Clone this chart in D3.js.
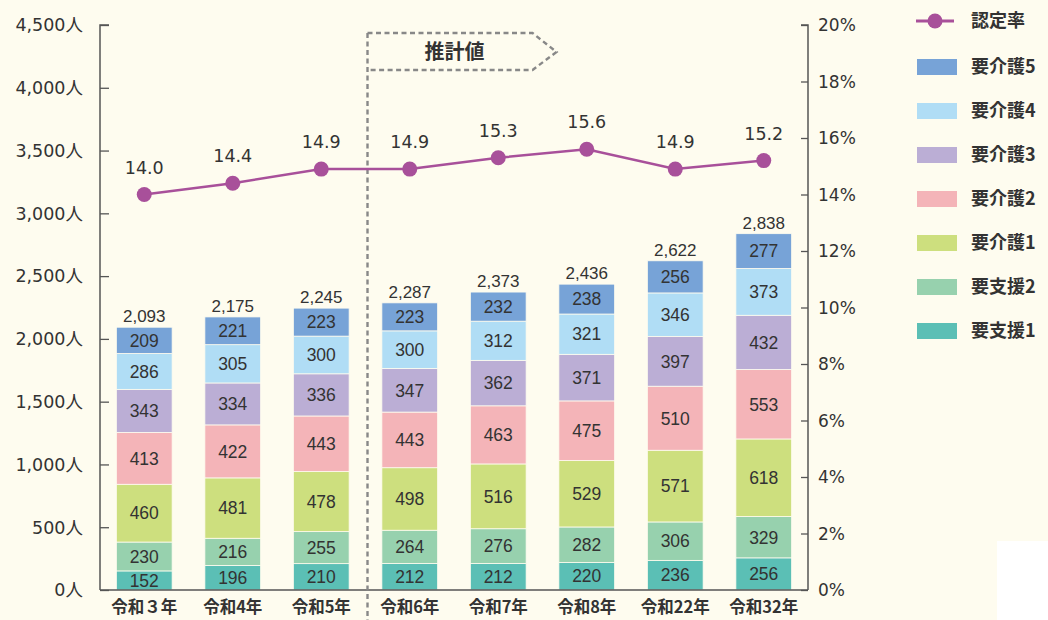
<!DOCTYPE html>
<html>
<head>
<meta charset="utf-8">
<script src="https://cdn.jsdelivr.net/npm/d3@7"></script>
<style>
  html, body { margin: 0; padding: 0; background: #fefcef; }
  svg { display: block; font-family: "Noto Sans CJK JP", "Noto Sans", sans-serif; }
</style>
</head>
<body>
<svg id="chart" width="1048" height="620"></svg>
<script>
// categories
const years = ['令和３年', '令和4年', '令和5年', '令和6年', '令和7年', '令和8年', '令和22年', '令和32年'];

// stacked series, bottom to top
const shien1 = [152, 196, 210, 212, 212, 220, 236, 256];
const shien2 = [230, 216, 255, 264, 276, 282, 306, 329];
const kaigo1 = [460, 481, 478, 498, 516, 529, 571, 618];
const kaigo2 = [413, 422, 443, 443, 463, 475, 510, 553];
const kaigo3 = [343, 334, 336, 347, 362, 371, 397, 432];
const kaigo4 = [286, 305, 300, 300, 312, 321, 346, 373];
const kaigo5 = [209, 221, 223, 223, 232, 238, 256, 277];

// 認定率 (%)
const rate = [14.0, 14.4, 14.9, 14.9, 15.3, 15.6, 14.9, 15.2];

const leftTicks = [0, 500, 1000, 1500, 2000, 2500, 3000, 3500, 4000, 4500];
const rightTicks = [0, 2, 4, 6, 8, 10, 12, 14, 16, 18, 20];

const seriesNames = ['要支援1', '要支援2', '要介護1', '要介護2', '要介護3', '要介護4', '要介護5'];
const seriesColors = ['#5bbfb5', '#97d1ae', '#cddf7e', '#f4b4b8', '#bbaed5', '#b0ddf5', '#77a3d7'];
const seriesValues = [shien1, shien2, kaigo1, kaigo2, kaigo3, kaigo4, kaigo5];

const lineColor = '#a8509a';
const textColor = '#333';
const wideFont = '"DejaVu Sans", "Noto Sans CJK JP", sans-serif';
const numFont = '"Liberation Sans", "Noto Sans CJK JP", sans-serif';

const svg = d3.select('#chart');

const margin = {left: 100, right: 808, top: 25, bottom: 590};

const x = d3.scaleBand()
    .domain(years)
    .range([margin.left, margin.right])
    .paddingInner(0.37)
    .paddingOuter(0.185);

const y = d3.scaleLinear().domain([0, 4500]).range([margin.bottom, margin.top]);
const y2 = d3.scaleLinear().domain([0, 20]).range([margin.bottom, margin.top]);

// build table for the stack
const table = years.map((yr, i) => {
    const row = {year: yr};
    seriesNames.forEach((n, k) => row[n] = seriesValues[k][i]);
    return row;
});
const stacked = d3.stack().keys(seriesNames)(table);

// bars
stacked.forEach((layer, k) => {
    const g = svg.append('g');
    g.selectAll('rect')
        .data(layer)
        .join('rect')
        .attr('x', d => x(d.data.year))
        .attr('y', d => y(d[1]))
        .attr('width', x.bandwidth())
        .attr('height', d => y(d[0]) - y(d[1]))
        .attr('fill', seriesColors[k])
        .attr('stroke', '#fefcef')
        .attr('stroke-width', 0.8);

    g.selectAll('text')
        .data(layer)
        .join('text')
        .attr('x', d => x(d.data.year) + x.bandwidth() / 2)
        .attr('y', d => (y(d[0]) + y(d[1])) / 2)
        .attr('dy', '0.36em')
        .attr('text-anchor', 'middle')
        .attr('font-family', numFont)
        .attr('font-size', 17.5)
        .attr('fill', textColor)
        .text(d => d[1] - d[0]);
});

// totals
const totals = table.map(r => ({year: r.year, total: d3.sum(seriesNames, n => r[n])}));
svg.append('g').selectAll('text')
    .data(totals)
    .join('text')
    .attr('x', d => x(d.year) + x.bandwidth() / 2)
    .attr('y', d => y(d.total) - 5)
    .attr('text-anchor', 'middle')
    .attr('font-family', numFont)
    .attr('font-size', 17)
    .attr('fill', textColor)
    .text(d => d3.format(',')(d.total));

// axes
const axisColor = '#555';
const gl = svg.append('g')
    .attr('transform', `translate(${margin.left},0)`)
    .call(d3.axisRight(y).tickValues(leftTicks).tickSize(9).tickFormat(() => ''));
gl.selectAll('line').attr('stroke', axisColor).attr('stroke-width', 1.3);
gl.select('.domain').attr('stroke', axisColor).attr('stroke-width', 1.5)
    .attr('d', `M9,${margin.top}H0V${margin.bottom}`);

svg.append('g').selectAll('text')
    .data(leftTicks)
    .join('text')
    .attr('x', 83)
    .attr('y', d => y(d))
    .attr('dy', '0.36em')
    .attr('text-anchor', 'end')
    .attr('font-family', wideFont)
    .attr('font-size', 17.5)
    .attr('fill', textColor)
    .text(d => d3.format(',')(d) + '人');

const gr = svg.append('g')
    .attr('transform', `translate(${margin.right},0)`)
    .call(d3.axisLeft(y2).tickValues(rightTicks).tickSize(7).tickFormat(() => ''));
gr.selectAll('line').attr('stroke', axisColor).attr('stroke-width', 1.3);
gr.select('.domain').attr('stroke', axisColor).attr('stroke-width', 1.5)
    .attr('d', `M-7,${margin.top}H0V${margin.bottom}`);

svg.append('g').selectAll('text')
    .data(rightTicks)
    .join('text')
    .attr('x', 818)
    .attr('y', d => y2(d))
    .attr('dy', '0.36em')
    .attr('text-anchor', 'start')
    .attr('font-family', wideFont)
    .attr('font-size', 17)
    .attr('fill', textColor)
    .text(d => d + '%');

// bottom line
svg.append('line')
    .attr('x1', margin.left).attr('x2', margin.right)
    .attr('y1', margin.bottom).attr('y2', margin.bottom)
    .attr('stroke', axisColor).attr('stroke-width', 1.5);

// x labels
svg.append('g').selectAll('text')
    .data(years)
    .join('text')
    .attr('x', d => x(d) + x.bandwidth() / 2)
    .attr('y', 613)
    .attr('text-anchor', 'middle')
    .attr('font-size', 16.5)
    .attr('font-weight', 'bold')
    .attr('fill', textColor)
    .text(d => d);

// estimate divider + 推計値 box
const splitX = x(years[3]) - (x.step() - x.bandwidth()) / 2 + 2;
svg.append('line')
    .attr('x1', splitX).attr('x2', splitX)
    .attr('y1', 33).attr('y2', 620)
    .attr('stroke', '#888').attr('stroke-width', 2.4)
    .attr('stroke-dasharray', '5,3.5');
svg.append('path')
    .attr('d', `M${splitX},33 H${splitX + 165} L${splitX + 189},52 L${splitX + 165},70 H${splitX}`)
    .attr('fill', 'none')
    .attr('stroke', '#888').attr('stroke-width', 2.4)
    .attr('stroke-dasharray', '5,3.5');
svg.append('text')
    .attr('x', splitX + 87)
    .attr('y', 52)
    .attr('dy', '0.36em')
    .attr('text-anchor', 'middle')
    .attr('font-size', 20)
    .attr('font-weight', 'bold')
    .attr('fill', textColor)
    .text('推計値');

// rate line
const cx = (d, i) => x(years[i]) + x.bandwidth() / 2;
svg.append('path')
    .datum(rate)
    .attr('d', d3.line().x(cx).y(d => y2(d)))
    .attr('fill', 'none')
    .attr('stroke', lineColor)
    .attr('stroke-width', 2.5);
svg.append('g').selectAll('circle')
    .data(rate)
    .join('circle')
    .attr('cx', cx)
    .attr('cy', d => y2(d))
    .attr('r', 7.5)
    .attr('fill', lineColor);
svg.append('g').selectAll('text')
    .data(rate)
    .join('text')
    .attr('x', cx)
    .attr('y', d => y2(d) - 21)
    .attr('text-anchor', 'middle')
    .attr('font-family', wideFont)
    .attr('font-size', 17.5)
    .attr('fill', textColor)
    .text(d => d.toFixed(1));

// legend
const lg = svg.append('g');
lg.append('line')
    .attr('x1', 916).attr('x2', 954)
    .attr('y1', 21).attr('y2', 21)
    .attr('stroke', lineColor).attr('stroke-width', 3);
lg.append('circle')
    .attr('cx', 935).attr('cy', 21).attr('r', 7.5)
    .attr('fill', lineColor);
lg.append('text')
    .attr('x', 971).attr('y', 21).attr('dy', '0.36em')
    .attr('font-size', 18).attr('font-weight', 'bold')
    .attr('fill', textColor)
    .text('認定率');

const legendOrder = d3.range(seriesNames.length).reverse();
legendOrder.forEach((k, j) => {
    const ly = 67 + j * 44;
    lg.append('rect')
        .attr('x', 917).attr('y', ly - 8)
        .attr('width', 40).attr('height', 16)
        .attr('fill', seriesColors[k]);
    lg.append('text')
        .attr('x', 971).attr('y', ly).attr('dy', '0.36em')
        .attr('font-size', 18).attr('font-weight', 'bold')
        .attr('fill', textColor)
        .text(seriesNames[k]);
});

// white patch bottom-right (cropped QR area)
svg.append('rect')
    .attr('x', 997).attr('y', 541)
    .attr('width', 51).attr('height', 79)
    .attr('fill', '#fff');
</script>
</body>
</html>
